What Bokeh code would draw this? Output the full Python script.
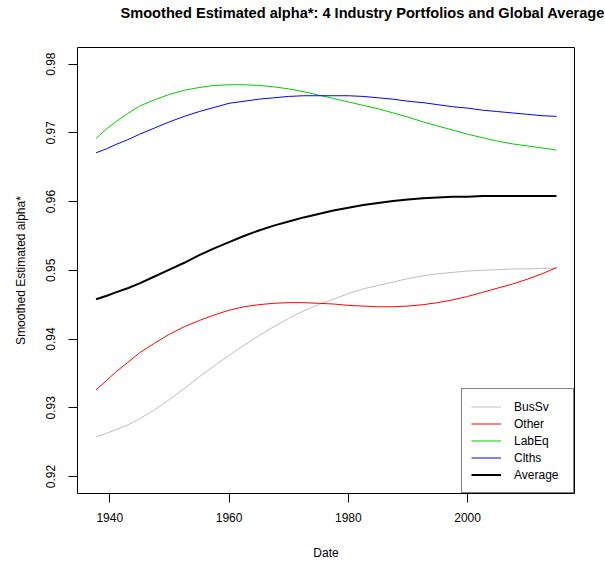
from bokeh.plotting import figure
from bokeh.models import (Range1d, Legend, LegendItem, FixedTicker,
                          PrintfTickFormatter, Title)
from bokeh.embed import file_html
from bokeh.resources import INLINE

# Smoothed alpha* estimates, sampled along the date axis
years = [1937.7, 1939.5, 1941, 1943, 1945, 1947.5, 1950, 1952.5, 1955, 1957.5,
         1960, 1962.5, 1965, 1967.5, 1970, 1972.5, 1975, 1977.5, 1980, 1982.5,
         1985, 1987.5, 1990, 1992.5, 1995, 1997.5, 2000, 2002.5, 2005, 2007.5,
         2010, 2012.5, 2014.9]

bussv = [0.9258, 0.9263, 0.9268, 0.9275, 0.9284, 0.9297, 0.9312, 0.9328, 0.9345, 0.9361,
         0.9376, 0.9391, 0.9405, 0.9418, 0.9430, 0.9441, 0.9450, 0.9458, 0.9466, 0.9473,
         0.9478, 0.9483, 0.9488, 0.9492, 0.9495, 0.9497, 0.9499, 0.9500, 0.9501, 0.9502,
         0.9502, 0.9503, 0.9503]
other = [0.9326, 0.9340, 0.9352, 0.9366, 0.9380, 0.9394, 0.9407, 0.9418, 0.9427, 0.9435,
         0.9442, 0.9447, 0.9450, 0.9452, 0.9453, 0.9453, 0.9452, 0.9451, 0.9449, 0.9448,
         0.9447, 0.9447, 0.9448, 0.9450, 0.9453, 0.9457, 0.9462, 0.9468, 0.9474, 0.9480,
         0.9487, 0.9495, 0.9504]
labeq = [0.9692, 0.9706, 0.9716, 0.9728, 0.9739, 0.9748, 0.9756, 0.9762, 0.9766, 0.9769,
         0.9770, 0.9770, 0.9769, 0.9767, 0.9764, 0.9760, 0.9755, 0.9750, 0.9745, 0.9740,
         0.9735, 0.9729, 0.9723, 0.9716, 0.9710, 0.9704, 0.9698, 0.9693, 0.9688, 0.9684,
         0.9681, 0.9678, 0.9675]
clths = [0.9671, 0.9677, 0.9683, 0.9690, 0.9698, 0.9707, 0.9716, 0.9724, 0.9731, 0.9737,
         0.9743, 0.9746, 0.9749, 0.9751, 0.9753, 0.9754, 0.9754, 0.9754, 0.9754, 0.9753,
         0.9751, 0.9749, 0.9746, 0.9744, 0.9741, 0.9738, 0.9736, 0.9733, 0.9731, 0.9729,
         0.9727, 0.9725, 0.9724]
average = [0.9458, 0.9463, 0.9468, 0.9474, 0.9481, 0.9491, 0.9501, 0.9511, 0.9522, 0.9532,
           0.9541, 0.9550, 0.9558, 0.9565, 0.9571, 0.9577, 0.9582, 0.9587, 0.9591, 0.9595,
           0.9598, 0.9601, 0.9603, 0.9605, 0.9606, 0.9607, 0.9607, 0.9608, 0.9608, 0.9608,
           0.9608, 0.9608, 0.9608]

x_ticks = [1940, 1960, 1980, 2000]
y_ticks = [0.92, 0.93, 0.94, 0.95, 0.96, 0.97, 0.98]

TITLE = "Smoothed Estimated alpha*: 4 Industry Portfolios and Global Average"
FONT = "Liberation Sans"

p = figure(width=605, height=565, output_backend="svg", toolbar_location=None,
           x_range=Range1d(1934.59, 2017.92), y_range=Range1d(0.91753, 0.98242),
           min_border_left=77, min_border_right=31, min_border_top=47,
           min_border_bottom=72)

# a blank spacer panel next to the frame lifts the main title towards the top edge
p.add_layout(Title(text=" ", text_font_size="1px", standoff=24), "above")
p.add_layout(Title(text=TITLE, text_font=FONT, text_font_size="14.6px",
                   text_font_style="bold", text_color="black", align="left",
                   offset=43, standoff=0), "above")

p.outline_line_color = "black"
p.outline_line_width = 1
p.xgrid.visible = False
p.ygrid.visible = False
p.background_fill_color = "white"
p.border_fill_color = "white"

for ax in (p.xaxis[0], p.yaxis[0]):
    ax.axis_line_color = None
    ax.major_tick_in = 0
    ax.major_tick_out = 9
    ax.major_tick_line_color = "black"
    ax.minor_tick_line_color = None
    ax.major_label_text_font = FONT
    ax.major_label_text_font_size = "12px"
    ax.major_label_text_color = "black"
    ax.axis_label_text_font = FONT
    ax.axis_label_text_font_size = "12px"
    ax.axis_label_text_font_style = "normal"
    ax.axis_label_text_color = "black"

p.xaxis.ticker = FixedTicker(ticks=x_ticks)
p.xaxis.formatter = PrintfTickFormatter(format="%d")
p.xaxis.major_label_standoff = 10
p.xaxis.axis_label = "Date"
p.xaxis.axis_label_standoff = 21

p.yaxis.ticker = FixedTicker(ticks=y_ticks)
p.yaxis.formatter = PrintfTickFormatter(format="%.2f")
p.yaxis.major_label_orientation = "vertical"
p.yaxis.major_label_standoff = 13
p.yaxis.axis_label = "Smoothed Estimated alpha*"
p.yaxis.axis_label_standoff = 16

r_bus = p.line(years, bussv, line_color="#BEBEBE", line_width=1)
r_oth = p.line(years, other, line_color="#FF0000", line_width=1)
r_lab = p.line(years, labeq, line_color="#00CD00", line_width=1)
r_clt = p.line(years, clths, line_color="#0000FF", line_width=1)
r_avg = p.line(years, average, line_color="black", line_width=2)

legend = Legend(items=[
    LegendItem(label="BusSv", renderers=[r_bus]),
    LegendItem(label="Other", renderers=[r_oth]),
    LegendItem(label="LabEq", renderers=[r_lab]),
    LegendItem(label="Clths", renderers=[r_clt]),
    LegendItem(label="Average", renderers=[r_avg]),
], location="bottom_right")
legend.margin = 0
legend.padding = 9
legend.spacing = 0
legend.label_height = 17
legend.glyph_height = 17
legend.glyph_width = 30
legend.label_standoff = 13
legend.label_width = 50
legend.label_text_font = FONT
legend.label_text_font_size = "12px"
legend.label_text_color = "black"
legend.border_line_color = "black"
legend.border_line_width = 1
legend.background_fill_color = "white"
legend.background_fill_alpha = 1.0
p.add_layout(legend)

open("out.html", "w").write(file_html(p, INLINE))
